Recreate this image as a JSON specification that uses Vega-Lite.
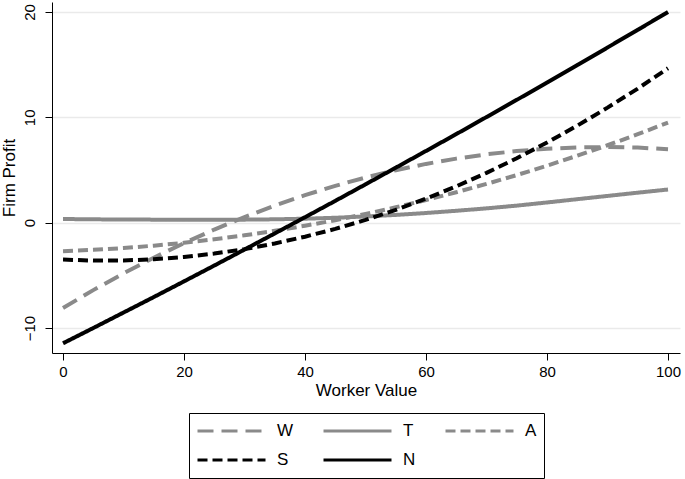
{
  "$schema": "https://vega.github.io/schema/vega-lite/v6.json",
  "width": 628,
  "height": 351,
  "autosize": {"type": "none"},
  "padding": {"left": 52, "top": 2, "right": 5, "bottom": 126},
  "background": "white",
  "config": {
    "view": {"stroke": null},
    "font": "Liberation Sans",
    "axis": {
      "domainColor": "#000000",
      "domainWidth": 1,
      "tickColor": "#000000",
      "tickWidth": 1,
      "tickSize": 7,
      "labelColor": "#000000",
      "labelFont": "Liberation Sans",
      "labelFontSize": 15,
      "titleColor": "#000000",
      "titleFont": "Liberation Sans",
      "titleFontSize": 17,
      "titleFontWeight": "normal"
    },
    "legend": {
      "title": null,
      "orient": "none",
      "legendX": 137,
      "legendY": 411,
      "direction": "horizontal",
      "columns": 3,
      "gridAlign": "each",
      "symbolType": "stroke",
      "symbolSize": 4624,
      "symbolStrokeWidth": 3,
      "labelFontSize": 17,
      "labelFont": "Liberation Sans",
      "labelColor": "#000000",
      "labelOffset": 10,
      "columnPadding": 28,
      "rowPadding": 7,
      "clipHeight": 22,
      "strokeColor": "#000000",
      "padding": 7
    }
  },
  "data": {
    "values": [
      {"x": 0, "s": "W", "y": -8.10}, {"x": 5, "s": "W", "y": -6.40}, {"x": 10, "s": "W", "y": -4.81}, {"x": 15, "s": "W", "y": -3.32}, {"x": 20, "s": "W", "y": -1.94}, {"x": 25, "s": "W", "y": -0.65}, {"x": 30, "s": "W", "y": 0.54}, {"x": 35, "s": "W", "y": 1.62}, {"x": 40, "s": "W", "y": 2.61}, {"x": 45, "s": "W", "y": 3.50}, {"x": 50, "s": "W", "y": 4.29}, {"x": 55, "s": "W", "y": 4.98}, {"x": 60, "s": "W", "y": 5.58}, {"x": 65, "s": "W", "y": 6.08}, {"x": 70, "s": "W", "y": 6.49}, {"x": 75, "s": "W", "y": 6.80}, {"x": 80, "s": "W", "y": 7.02}, {"x": 85, "s": "W", "y": 7.15}, {"x": 90, "s": "W", "y": 7.18}, {"x": 95, "s": "W", "y": 7.13}, {"x": 100, "s": "W", "y": 6.98},
      {"x": 0, "s": "T", "y": 0.35}, {"x": 5, "s": "T", "y": 0.32}, {"x": 10, "s": "T", "y": 0.30}, {"x": 15, "s": "T", "y": 0.29}, {"x": 20, "s": "T", "y": 0.28}, {"x": 25, "s": "T", "y": 0.28}, {"x": 30, "s": "T", "y": 0.29}, {"x": 35, "s": "T", "y": 0.32}, {"x": 40, "s": "T", "y": 0.38}, {"x": 45, "s": "T", "y": 0.47}, {"x": 50, "s": "T", "y": 0.59}, {"x": 55, "s": "T", "y": 0.74}, {"x": 60, "s": "T", "y": 0.92}, {"x": 65, "s": "T", "y": 1.13}, {"x": 70, "s": "T", "y": 1.36}, {"x": 75, "s": "T", "y": 1.62}, {"x": 80, "s": "T", "y": 1.92}, {"x": 85, "s": "T", "y": 2.23}, {"x": 90, "s": "T", "y": 2.54}, {"x": 95, "s": "T", "y": 2.85}, {"x": 100, "s": "T", "y": 3.15},
      {"x": 0, "s": "A", "y": -2.70}, {"x": 5, "s": "A", "y": -2.58}, {"x": 10, "s": "A", "y": -2.41}, {"x": 15, "s": "A", "y": -2.18}, {"x": 20, "s": "A", "y": -1.91}, {"x": 25, "s": "A", "y": -1.58}, {"x": 30, "s": "A", "y": -1.20}, {"x": 35, "s": "A", "y": -0.77}, {"x": 40, "s": "A", "y": -0.29}, {"x": 45, "s": "A", "y": 0.24}, {"x": 50, "s": "A", "y": 0.83}, {"x": 55, "s": "A", "y": 1.46}, {"x": 60, "s": "A", "y": 2.15}, {"x": 65, "s": "A", "y": 2.89}, {"x": 70, "s": "A", "y": 3.68}, {"x": 75, "s": "A", "y": 4.52}, {"x": 80, "s": "A", "y": 5.41}, {"x": 85, "s": "A", "y": 6.36}, {"x": 90, "s": "A", "y": 7.35}, {"x": 95, "s": "A", "y": 8.40}, {"x": 100, "s": "A", "y": 9.50},
      {"x": 0, "s": "S", "y": -3.50}, {"x": 5, "s": "S", "y": -3.60}, {"x": 10, "s": "S", "y": -3.59}, {"x": 15, "s": "S", "y": -3.47}, {"x": 20, "s": "S", "y": -3.26}, {"x": 25, "s": "S", "y": -2.93}, {"x": 30, "s": "S", "y": -2.51}, {"x": 35, "s": "S", "y": -1.97}, {"x": 40, "s": "S", "y": -1.33}, {"x": 45, "s": "S", "y": -0.59}, {"x": 50, "s": "S", "y": 0.26}, {"x": 55, "s": "S", "y": 1.22}, {"x": 60, "s": "S", "y": 2.28}, {"x": 65, "s": "S", "y": 3.45}, {"x": 70, "s": "S", "y": 4.73}, {"x": 75, "s": "S", "y": 6.12}, {"x": 80, "s": "S", "y": 7.61}, {"x": 85, "s": "S", "y": 9.21}, {"x": 90, "s": "S", "y": 10.92}, {"x": 95, "s": "S", "y": 12.73}, {"x": 100, "s": "S", "y": 14.66},
      {"x": 0, "s": "N", "y": -11.45}, {"x": 5, "s": "N", "y": -10.00}, {"x": 10, "s": "N", "y": -8.53}, {"x": 15, "s": "N", "y": -7.06}, {"x": 20, "s": "N", "y": -5.57}, {"x": 25, "s": "N", "y": -4.07}, {"x": 30, "s": "N", "y": -2.55}, {"x": 35, "s": "N", "y": -1.02}, {"x": 40, "s": "N", "y": 0.52}, {"x": 45, "s": "N", "y": 2.07}, {"x": 50, "s": "N", "y": 3.64}, {"x": 55, "s": "N", "y": 5.22}, {"x": 60, "s": "N", "y": 6.81}, {"x": 65, "s": "N", "y": 8.41}, {"x": 70, "s": "N", "y": 10.03}, {"x": 75, "s": "N", "y": 11.66}, {"x": 80, "s": "N", "y": 13.30}, {"x": 85, "s": "N", "y": 14.96}, {"x": 90, "s": "N", "y": 16.63}, {"x": 95, "s": "N", "y": 18.31}, {"x": 100, "s": "N", "y": 20.00}
    ]
  },
  "mark": {"type": "line", "strokeWidth": 4, "strokeCap": "butt"},
  "encoding": {
    "x": {
      "field": "x",
      "type": "quantitative",
      "scale": {"domain": [-1.82, 101.98], "nice": false, "zero": false},
      "axis": {
        "values": [0, 20, 40, 60, 80, 100],
        "grid": false,
        "labelPadding": 4,
        "title": "Worker Value",
        "titlePadding": 3
      }
    },
    "y": {
      "field": "y",
      "type": "quantitative",
      "scale": {"domain": [-12.37, 20.95], "nice": false, "zero": false},
      "axis": {
        "values": [-10, 0, 10, 20],
        "grid": true,
        "gridColor": "#eaeaea",
        "gridWidth": 1.5,
        "labelAngle": 270,
        "labelAlign": "center",
        "labelBaseline": "bottom",
        "labelPadding": 8,
        "title": "Firm Profit",
        "titlePadding": 4
      }
    },
    "color": {
      "field": "s",
      "type": "nominal",
      "scale": {"domain": ["W", "T", "A", "S", "N"], "range": ["#8a8a8a", "#8a8a8a", "#8a8a8a", "#000000", "#000000"]}
    },
    "strokeDash": {
      "field": "s",
      "type": "nominal",
      "scale": {"domain": ["W", "T", "A", "S", "N"], "range": [[16, 8], [1, 0], [10, 5], [10, 5], [1, 0]]}
    }
  }
}
